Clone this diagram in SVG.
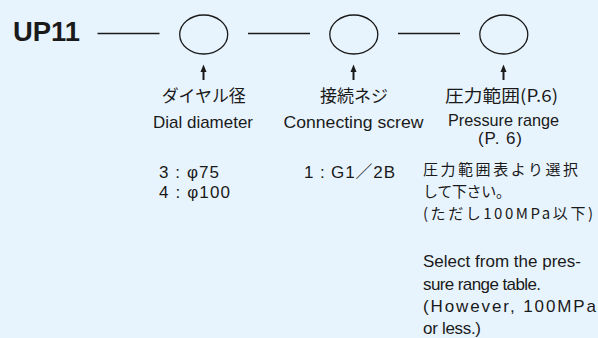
<svg xmlns="http://www.w3.org/2000/svg" width="598" height="338" viewBox="0 0 598 338">
<defs>
<style>
.t{font-family:"Liberation Sans","Noto Sans CJK JP",sans-serif;fill:#1a1a1a;font-size:17px}
.j{font-family:"Noto Sans CJK JP",sans-serif;fill:#1a1a1a;font-size:17px}
.jb{font-family:"Noto Sans CJK JP",sans-serif;fill:#1a1a1a;font-size:15px}
.c{fill:none;stroke:#1a1a1a;stroke-width:1.3}
.ln{stroke:#1a1a1a;stroke-width:1.3}
.sh{stroke:#1a1a1a;stroke-width:2}
.hd{fill:#1a1a1a}
</style>
</defs>
<rect width="598" height="338" fill="#e8f4fd"/>
<g id="title"><text x="13" y="41" class="t" style="font-size:27px;font-weight:bold" textLength="67" lengthAdjust="spacingAndGlyphs">UP11</text></g>
<g id="dial">
<ellipse class="c" cx="203.7" cy="34.5" rx="24" ry="19.5"/>
<text class="j" x="203.7" y="102" text-anchor="middle" textLength="84" lengthAdjust="spacingAndGlyphs">ダイヤル径</text>
<text class="t" x="203" y="128" text-anchor="middle" textLength="100" lengthAdjust="spacingAndGlyphs">Dial diameter</text>
<text class="t"><tspan x="159" y="178" textLength="60" lengthAdjust="spacing">3 : φ75</tspan><tspan x="159" y="197.5" textLength="71" lengthAdjust="spacing">4 : φ100</tspan></text>
</g>
<g id="screw">
<ellipse class="c" cx="353.8" cy="34.5" rx="24" ry="19.5"/>
<text class="j" x="354" y="102" text-anchor="middle" textLength="68" lengthAdjust="spacingAndGlyphs">接続ネジ</text>
<text class="t" x="353.5" y="128" text-anchor="middle" textLength="140" lengthAdjust="spacingAndGlyphs">Connecting screw</text>
<text class="t" x="304" y="178" textLength="91" lengthAdjust="spacing">1 : G1／2B</text>
</g>
<g id="range">
<ellipse class="c" cx="503.8" cy="34.5" rx="24" ry="19.5"/>
<text class="j" x="501.5" y="102" text-anchor="middle" textLength="113" lengthAdjust="spacingAndGlyphs">圧力範囲(P.6)</text>
<text class="t" x="503.5" y="126" text-anchor="middle" textLength="111" lengthAdjust="spacingAndGlyphs">Pressure range</text>
<text class="t" x="500" y="143.5" text-anchor="middle" textLength="44" lengthAdjust="spacing">(P. 6)</text>
<text class="jb"><tspan x="423" y="175" textLength="155" lengthAdjust="spacing">圧力範囲表より選択</tspan><tspan x="423" y="197" textLength="88" lengthAdjust="spacing">して下さい。</tspan><tspan x="423" y="219" textLength="170" lengthAdjust="spacing">(ただし100MPa以下)</tspan></text>
<text class="t"><tspan x="423" y="267" textLength="158" lengthAdjust="spacing">Select from the pres-</tspan><tspan x="423" y="289.5" textLength="118" lengthAdjust="spacing">sure range table.</tspan><tspan x="423" y="312" textLength="173" lengthAdjust="spacing">(However, 100MPa</tspan><tspan x="423" y="333.5" textLength="58" lengthAdjust="spacing">or less.)</tspan></text>
</g>
<g id="connectors">
<line class="ln" x1="97.5" y1="33.5" x2="159.5" y2="33.5"/>
<line class="ln" x1="248" y1="33.5" x2="310" y2="33.5"/>
<line class="ln" x1="398" y1="33.5" x2="460" y2="33.5"/>
<line class="sh" x1="203.5" y1="70" x2="203.5" y2="80"/>
<polygon class="hd" points="203.5,64.5 206.5,72 200.5,72"/>
<line class="sh" x1="353.5" y1="70" x2="353.5" y2="80"/>
<polygon class="hd" points="353.5,64.5 356.5,72 350.5,72"/>
<line class="sh" x1="503.5" y1="70" x2="503.5" y2="80"/>
<polygon class="hd" points="503.5,64.5 506.5,72 500.5,72"/>
</g>
</svg>
